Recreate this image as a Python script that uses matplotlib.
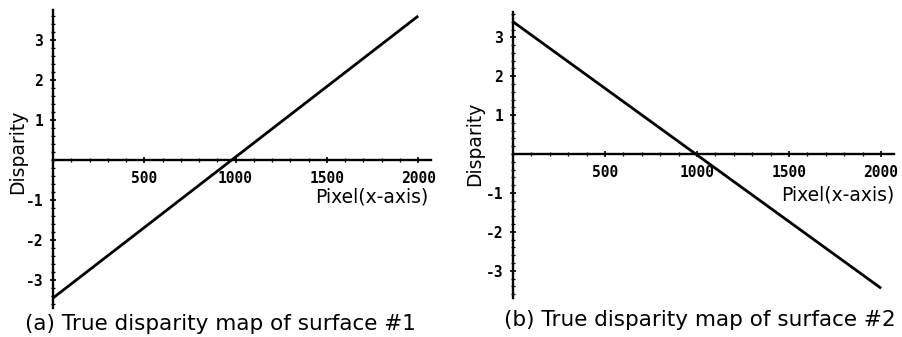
import matplotlib
matplotlib.use("Agg")
import matplotlib.pyplot as plt
from matplotlib.ticker import FixedLocator, MultipleLocator

# Disparity along the pixel row for the two test surfaces
pixels = [0, 2000]
disparity_s1 = [-3.45, 3.6]
disparity_s2 = [3.4, -3.45]

x_ticks = [500, 1000, 1500, 2000]
x_tick_labels = ["500", "1000", "1500", "2000"]
y_ticks = [-3, -2, -1, 1, 2, 3]
y_tick_labels = ["-3", "-2", "-1", "1", "2", "3"]

captions = ["(a) True disparity map of surface #1",
            "(b) True disparity map of surface #2"]

W, H = 902, 337
fig = plt.figure(figsize=(W / 100, H / 100), dpi=100)
fig.patch.set_facecolor("white")

# axes rectangles in pixels: left, top, right, bottom
boxes = [(53, 10, 431, 308), (513, 12, 894, 298)]
ylims = [(-3.7, 3.75), (-3.7, 3.65)]
series = [disparity_s1, disparity_s2]
xlabel_pos = [(0.992, 0.372), (1.0, 0.36)]
ylabel_pos = [(-0.093, 0.523), (-0.10, 0.538)]
caption_pos = [(220, 324), (700, 320)]

tick_font = dict(family="DejaVu Sans Mono", weight="bold", size=10.5)
label_font = dict(family="DejaVu Sans", size=13.5)

for i in range(2):
    l, t, r, b = boxes[i]
    ax = fig.add_axes([l / W, (H - b) / H, (r - l) / W, (b - t) / H])
    ax.set_xlim(0, 2070)
    ax.set_ylim(*ylims[i])
    ax.plot(pixels, series[i], color="black", lw=2.0, solid_capstyle="butt")

    for side in ("top", "right"):
        ax.spines[side].set_visible(False)
    ax.spines["left"].set_position(("data", 0))
    ax.spines["bottom"].set_position(("data", 0))
    for side in ("left", "bottom"):
        ax.spines[side].set_linewidth(1.7)

    ax.xaxis.set_major_locator(FixedLocator(x_ticks))
    ax.set_xticklabels(x_tick_labels, fontdict=tick_font)
    ax.yaxis.set_major_locator(FixedLocator(y_ticks))
    ax.set_yticklabels(y_tick_labels, fontdict=tick_font)
    ax.xaxis.set_minor_locator(MultipleLocator(100))
    ax.yaxis.set_minor_locator(MultipleLocator(0.2))
    ax.tick_params(which="major", direction="inout", length=4, width=1.2, pad=5)
    ax.tick_params(which="minor", direction="inout", length=2.2, width=0.9)
    ax.tick_params(axis="x", which="major", pad=6)

    ax.text(*xlabel_pos[i], "Pixel(x-axis)", transform=ax.transAxes,
            ha="right", va="center", **label_font)
    ax.text(*ylabel_pos[i], "Disparity", transform=ax.transAxes,
            ha="center", va="center", rotation=90, **label_font)

    cx, cy = caption_pos[i]
    fig.text(cx / W, (H - cy) / H, captions[i], ha="center", va="center",
             family="DejaVu Sans", size=15.5)

fig.savefig("out.png", dpi=100)
